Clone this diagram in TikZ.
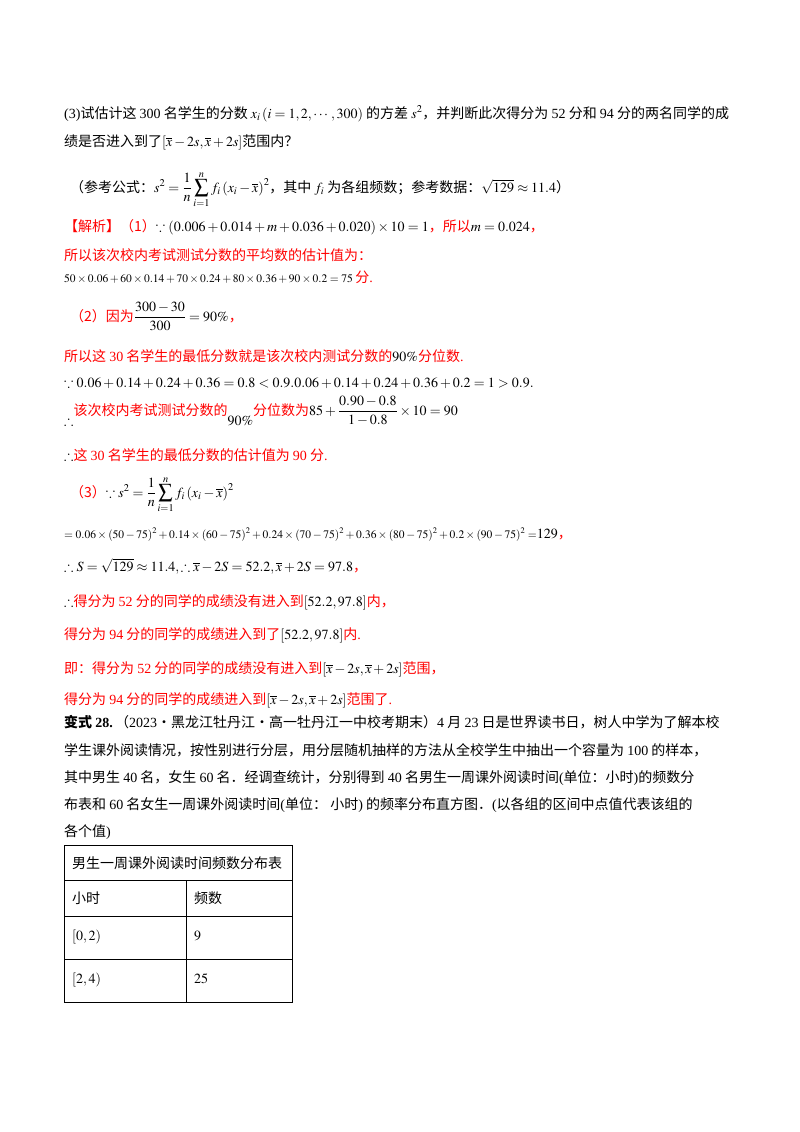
\documentclass[tikz,border=0pt]{standalone}
\usepackage{amsmath,amssymb}
\usepackage{mathptmx}
\usepackage{fontspec}
\setmainfont{Noto Sans CJK SC}
\newfontfamily\tm{Liberation Serif}
\newcommand\nm[1]{{\tm #1}}
\newcommand\rd[1]{\textcolor{red}{#1}}
\begin{document}
\begin{tikzpicture}[x=1pt,y=-1pt,
  ln/.style={anchor=base west,inner sep=0pt,font=\fontsize{14}{17}\selectfont},
  sm/.style={anchor=base west,inner sep=0pt,font=\fontsize{11.5}{13}\selectfont},
  cell/.style={anchor=base west,inner sep=0pt,font=\fontsize{14}{17}\selectfont}]
\useasboundingbox (0,0) rectangle (800,1132);
\node[ln] (l1) at (64,118) {\nm{(3)}试估计这 \nm{300} 名学生的分数 $x_i\left(i=1,2,\cdots,300\right)$ 的方差 $s^2$，并判断此次得分为 \nm{52} 分和 \nm{94} 分的两名同学的成};
\node[ln] (l2) at (64,146) {绩是否进入到了$[\overline{x}-2s,\overline{x}+2s]$范围内？};
\node[ln] (l3) at (70,192) {（参考公式：$\displaystyle s^2=\frac{1}{n}\sum_{i=1}^{n}f_i\left(x_i-\overline{x}\right)^2$，其中 $f_i$ 为各组频数；参考数据：$\sqrt{129}\approx11.4$）};
\node[ln] (l4) at (64,231) {\rd{【解析】（1）}$\because\left(0.006+0.014+m+0.036+0.020\right)\times10=1$\rd{，所以}$m=0.024$\rd{，}};
\node[ln] (l5) at (64,260) {\rd{所以该次校内考试测试分数的平均数的估计值为：}};
\node[sm] (l6) at (64,282) {$50\times0.06+60\times0.14+70\times0.24+80\times0.36+90\times0.2=75$ \rd{\fontsize{14}{17}\selectfont 分\nm{.}}};
\node[ln] (l7) at (70,321) {\rd{（2）因为}$\dfrac{300-30}{300}=90\%$\rd{，}};
\node[ln] (l8) at (64,361) {\rd{所以这 \nm{30} 名学生的最低分数就是该次校内测试分数的}$90\%$\rd{分位数\nm{.}}};
\node[ln] (l9) at (64,387) {$\because 0.06+0.14+0.24+0.36=0.8<0.9.0.06+0.14+0.24+0.36+0.2=1>0.9.$};
\node[ln] (l10) at (64,425) {$\therefore$\raisebox{10pt}{\rd{该次校内考试测试分数的}}$90\%$\raisebox{10pt}{\rd{分位数为}$85+\dfrac{0.90-0.8}{1-0.8}\times10=90$}};
\node[ln] (l11) at (64,460) {$\therefore$\rd{这 \nm{30} 名学生的最低分数的估计值为 \nm{90} 分\nm{.}}};
\node[ln] (l12) at (70,497) {\rd{（3）}$\displaystyle\because s^2=\frac{1}{n}\sum_{i=1}^{n}f_i\left(x_i-\overline{x}\right)^2$};
\node[sm] (l13) at (64,538) {$=0.06\times(50-75)^2+0.14\times(60-75)^2+0.24\times(70-75)^2+0.36\times(80-75)^2+0.2\times(90-75)^2=${\fontsize{14}{17}\selectfont$129$\rd{，}}};
\node[ln] (l14) at (64,571) {$\therefore S=\sqrt{129}\approx11.4,\therefore\overline{x}-2S=52.2,\overline{x}+2S=97.8$\rd{，}};
\node[ln] (l15) at (64,606) {$\therefore$\rd{得分为 \nm{52} 分的同学的成绩没有进入到}$\left[52.2,97.8\right]$\rd{内，}};
\node[ln] (l16) at (64,639) {\rd{得分为 \nm{94} 分的同学的成绩进入到了}$\left[52.2,97.8\right]$\rd{内\nm{.}}};
\node[ln] (l17) at (64,673) {\rd{即：得分为 \nm{52} 分的同学的成绩没有进入到}$[\overline{x}-2s,\overline{x}+2s]$\rd{范围，}};
\node[ln] (l18) at (64,704) {\rd{得分为 \nm{94} 分的同学的成绩进入到}$[\overline{x}-2s,\overline{x}+2s]$\rd{范围了\nm{.}}};
\node[ln] (l19) at (64,727) {\textbf{变式 \nm{\bfseries 28.}}\,（\nm{2023}·黑龙江牡丹江·高一牡丹江一中校考期末）\nm{4} 月 \nm{23} 日是世界读书日，树人中学为了解本校};
\node[ln] (l20) at (64,755) {学生课外阅读情况，按性别进行分层，用分层随机抽样的方法从全校学生中抽出一个容量为 \nm{100} 的样本，};
\node[ln] (l21) at (64,782) {其中男生 \nm{40} 名，女生 \nm{60} 名．经调查统计，分别得到 \nm{40} 名男生一周课外阅读时间\nm{(}单位：小时\nm{)}的频数分};
\node[ln] (l22) at (64,809) {布表和 \nm{60} 名女生一周课外阅读时间\nm{(}单位： 小时\nm{)} 的频率分布直方图．\nm{(}以各组的区间中点值代表该组的};
\node[ln] (l23) at (64,836) {各个值\nm{)}};
% table
\draw[line width=0.9pt] (64,845) rectangle (292,1002);
\draw[line width=0.9pt] (64,880) -- (292,880) (64,916) -- (292,916) (64,959) -- (292,959) (186,880) -- (186,1002);
\node[cell] (t0) at (72,868) {男生一周课外阅读时间频数分布表};
\node[cell] (t1) at (72,903) {小时};
\node[cell] (t2) at (194,903) {频数};
\node[cell] (t3) at (72,940) {$\left[0,2\right)$};
\node[cell] (t4) at (194,940) {$9$};
\node[cell] (t5) at (72,983) {$\left[2,4\right)$};
\node[cell] (t6) at (194,983) {$25$};
\end{tikzpicture}
\end{document}
